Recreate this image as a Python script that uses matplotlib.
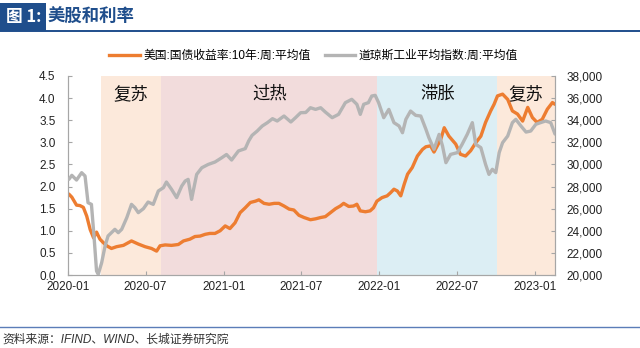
import matplotlib
matplotlib.use("Agg")
import matplotlib.pyplot as plt
import matplotlib.dates as mdates
from matplotlib.lines import Line2D
from matplotlib.patches import Rectangle
from matplotlib.ticker import FuncFormatter, MultipleLocator
import pandas as pd

plt.rcParams['font.family'] = ['Liberation Sans', 'Noto Sans CJK SC']
plt.rcParams['axes.unicode_minus'] = False

# 美国10年期国债收益率(周均值, %)
yield_dates = [
    "2020-01-03", "2020-01-10", "2020-01-21", "2020-01-29", "2020-02-06", "2020-02-14",
    "2020-02-22", "2020-03-01", "2020-03-08", "2020-03-16", "2020-03-24", "2020-04-01",
    "2020-04-12", "2020-04-24", "2020-05-10", "2020-05-29", "2020-06-14", "2020-06-30",
    "2020-07-15", "2020-07-27", "2020-08-04", "2020-08-16", "2020-08-31", "2020-09-16",
    "2020-09-28", "2020-10-13", "2020-10-25", "2020-11-06", "2020-11-18", "2020-11-29",
    "2020-12-11", "2020-12-23", "2021-01-04", "2021-01-15", "2021-01-27", "2021-02-08",
    "2021-02-20", "2021-03-04", "2021-03-16", "2021-03-24", "2021-04-05", "2021-04-17",
    "2021-04-29", "2021-05-10", "2021-05-22", "2021-06-03", "2021-06-14", "2021-06-26",
    "2021-07-08", "2021-07-23", "2021-08-04", "2021-08-16", "2021-08-27", "2021-09-08",
    "2021-09-20", "2021-10-01", "2021-10-09", "2021-10-21", "2021-11-01", "2021-11-09",
    "2021-11-17", "2021-11-29", "2021-12-10", "2021-12-18", "2021-12-26", "2022-01-07",
    "2022-01-19", "2022-01-27", "2022-02-04", "2022-02-12", "2022-02-20", "2022-02-28",
    "2022-03-08", "2022-03-19", "2022-03-31", "2022-04-12", "2022-04-20", "2022-05-01",
    "2022-05-09", "2022-05-25", "2022-06-02", "2022-06-13", "2022-06-29", "2022-07-10",
    "2022-07-22", "2022-08-03", "2022-08-15", "2022-08-27", "2022-09-07", "2022-09-19",
    "2022-09-27", "2022-10-05", "2022-10-17", "2022-10-29", "2022-11-09", "2022-11-21",
    "2022-12-03", "2022-12-15", "2022-12-26", "2023-01-06", "2023-01-18", "2023-01-30",
    "2023-02-11", "2023-02-17",
]
yield_values = [
    1.83, 1.76, 1.58, 1.57, 1.53, 1.33,
    1.03, 0.84, 0.97, 0.81, 0.73, 0.66,
    0.60, 0.64, 0.67, 0.77, 0.70, 0.64,
    0.60, 0.54, 0.66, 0.68, 0.67, 0.69,
    0.77, 0.81, 0.87, 0.88, 0.92, 0.94,
    0.94, 1.00, 1.11, 1.05, 1.18, 1.41,
    1.52, 1.64, 1.67, 1.70, 1.62, 1.60,
    1.62, 1.62, 1.56, 1.49, 1.47, 1.35,
    1.30, 1.25, 1.27, 1.30, 1.32, 1.41,
    1.50, 1.56, 1.62, 1.55, 1.56, 1.60,
    1.45, 1.43, 1.45, 1.52, 1.67, 1.75,
    1.79, 1.86, 1.94, 1.90, 1.79, 2.05,
    2.28, 2.43, 2.69, 2.84, 2.90, 2.92,
    2.78, 3.07, 3.33, 3.14, 2.96, 2.73,
    2.69, 2.81, 2.99, 3.14, 3.45, 3.71,
    3.86, 4.05, 4.09, 3.97, 3.71, 3.64,
    3.48, 3.79, 3.56, 3.45, 3.52, 3.75,
    3.90, 3.86,
]

# 道琼斯工业平均指数(周均值)
dow_dates = [
    "2020-01-03", "2020-01-10", "2020-01-21", "2020-02-02", "2020-02-10", "2020-02-17",
    "2020-02-25", "2020-03-02", "2020-03-08", "2020-03-12", "2020-03-20", "2020-03-28",
    "2020-04-04", "2020-04-12", "2020-04-20", "2020-04-28", "2020-05-06", "2020-05-18",
    "2020-05-29", "2020-06-06", "2020-06-14", "2020-06-26", "2020-07-07", "2020-07-19",
    "2020-07-31", "2020-08-12", "2020-08-19", "2020-08-31", "2020-09-12", "2020-09-24",
    "2020-10-02", "2020-10-09", "2020-10-17", "2020-10-21", "2020-10-29", "2020-11-10",
    "2020-11-25", "2020-12-11", "2020-12-27", "2021-01-07", "2021-01-19", "2021-02-04",
    "2021-02-20", "2021-02-28", "2021-03-08", "2021-03-20", "2021-04-01", "2021-04-13",
    "2021-04-25", "2021-05-06", "2021-05-22", "2021-06-07", "2021-06-18", "2021-06-30",
    "2021-07-12", "2021-07-23", "2021-08-04", "2021-08-16", "2021-08-27", "2021-09-12",
    "2021-09-27", "2021-10-13", "2021-10-28", "2021-11-09", "2021-11-17", "2021-11-25",
    "2021-12-06", "2021-12-14", "2021-12-22", "2021-12-30", "2022-01-11", "2022-01-23",
    "2022-02-04", "2022-02-16", "2022-02-24", "2022-03-04", "2022-03-15", "2022-03-27",
    "2022-04-08", "2022-04-20", "2022-04-27", "2022-05-09", "2022-05-21", "2022-05-29",
    "2022-06-06", "2022-06-17", "2022-07-03", "2022-07-14", "2022-07-26", "2022-08-07",
    "2022-08-15", "2022-08-27", "2022-09-07", "2022-09-15", "2022-09-23", "2022-10-01",
    "2022-10-09", "2022-10-17", "2022-10-29", "2022-11-09", "2022-11-17", "2022-11-29",
    "2022-12-11", "2022-12-22", "2023-01-03", "2023-01-14", "2023-01-26", "2023-02-07",
    "2023-02-17",
]
dow_values = [
    28650, 29015, 28590, 29255, 28955, 26540,
    26390, 23530, 20360, 20060, 21110, 22620,
    23530, 23830, 24130, 23830, 24130, 25190,
    26390, 26090, 25640, 26000, 26600, 26390,
    27600, 27900, 28410, 27750, 27000, 28050,
    28500, 28650, 26840, 27600, 29100, 29700,
    30000, 30220, 30610, 30900, 30400, 31220,
    31430, 32120, 32630, 33020, 33480, 33780,
    34140, 33930, 34380, 33840, 34230, 34680,
    34700, 35130, 34980, 35130, 34740, 34230,
    34530, 35590, 35890, 35440, 34530, 35440,
    35590, 36190, 36250, 35590, 34230, 34980,
    33780, 33480, 32870, 34080, 34830, 34440,
    34380, 33180, 32420, 31370, 32720, 31670,
    30160, 30910, 31070, 31820, 32720, 33780,
    31820, 31520, 30010, 29100, 29560, 29260,
    31070, 31970, 32570, 33780, 34080, 33480,
    32930, 33020, 33630, 33780, 33930, 33780,
    32750,
]

# 经济周期阶段
phase_names = ["复苏", "过热", "滞胀", "复苏"]
phase_starts = ["2020-03-18", "2020-08-07", "2021-12-27", "2022-10-05"]
phase_ends = ["2020-08-07", "2021-12-27", "2022-10-05", "2023-02-17"]
phase_colors = ["#FCE9DB", "#F2DCDC", "#DCEEF4", "#FCE9DB"]

yield_label = "美国:国债收益率:10年:周:平均值"
dow_label = "道琼斯工业平均指数:周:平均值"
x_ticks = ["2020-01", "2020-07", "2021-01", "2021-07", "2022-01", "2022-07", "2023-01"]

ORANGE = "#ED7D31"
GREY = "#B4B4B4"
NAVY = "#1F4E8C"
AXIS = "#A6A6A6"

fig = plt.figure(figsize=(6.4, 3.48), dpi=100)
ax = fig.add_axes([68 / 640, 1 - 275 / 348, 487 / 640, 199 / 348])
ax2 = ax.twinx()

yd = pd.to_datetime(yield_dates)
dd = pd.to_datetime(dow_dates)

for name, s, e, c in zip(phase_names, phase_starts, phase_ends, phase_colors):
    s, e = pd.Timestamp(s), pd.Timestamp(e)
    ax.axvspan(s, e, color=c, lw=0, zorder=0)
    ax.text(s + (e - s) / 2, 4.1, name, ha="center", va="center",
            fontsize=12.5, fontweight="medium", color="#111111",
            family=["Noto Sans CJK SC"], zorder=1)

ax.plot(yd, yield_values, color=ORANGE, lw=2.4, zorder=3, solid_capstyle="round")
ax2.plot(dd, dow_values, color=GREY, lw=2.4, zorder=3, solid_capstyle="round")

ax.set_xlim(pd.Timestamp("2020-01-01"), pd.Timestamp("2023-02-17"))
ax.set_ylim(0, 4.5)
ax2.set_ylim(20000, 38000)
ax.yaxis.set_major_locator(MultipleLocator(0.5))
ax.yaxis.set_major_formatter(FuncFormatter(lambda v, p: f"{v:.1f}"))
ax2.yaxis.set_major_locator(MultipleLocator(2000))
ax2.yaxis.set_major_formatter(FuncFormatter(lambda v, p: f"{int(v):,}"))

ax.set_xticks(pd.to_datetime(x_ticks))
ax.xaxis.set_major_formatter(mdates.DateFormatter("%Y-%m"))

for a in (ax, ax2):
    a.spines["top"].set_visible(False)
    for sp in ("left", "right", "bottom"):
        a.spines[sp].set_color(AXIS)
        a.spines[sp].set_linewidth(0.8)
    a.tick_params(direction="in", length=3, width=0.8, color=AXIS,
                  labelsize=8.5, labelcolor="#222222")
ax.tick_params(axis="y", pad=9)
ax2.tick_params(axis="y", pad=8)
ax.tick_params(axis="x", pad=4)

# 图例
handles = [Line2D([], [], color=ORANGE, lw=2.4), Line2D([], [], color=GREY, lw=2.4)]
fig.legend(handles, [yield_label, dow_label], ncol=2, frameon=False,
           loc="center", bbox_to_anchor=(0.49, 1 - 56 / 348), fontsize=8.5,
           handlelength=2.6, handletextpad=0.3, columnspacing=1.2)

# 标题栏
fig.patches.append(Rectangle((0, 1 - 31 / 348), 46 / 640, 28 / 348,
                             transform=fig.transFigure, color=NAVY, lw=0))
fig.text(6 / 640, 1 - 17 / 348, "图 1:", color="white", fontsize=12,
         fontweight="bold", va="center", family=["Noto Sans CJK SC"])
fig.text(48 / 640, 1 - 17 / 348, "美股和利率", color=NAVY, fontsize=12.5,
         fontweight="bold", va="center", family=["Noto Sans CJK SC"])
fig.add_artist(Line2D([0, 1], [1 - 31 / 348, 1 - 31 / 348], color=NAVY, lw=1.4,
                      transform=fig.transFigure))

# 资料来源
fig.add_artist(Line2D([0, 1], [1 - 327 / 348, 1 - 327 / 348], color="#5B7DB8",
                      lw=1.0, transform=fig.transFigure))
fig.text(2 / 640, 1 - 340 / 348, "资料来源：IFIND、WIND、长城证券研究院",
         fontsize=8.5, style="italic", color="#333333", va="center")

fig.savefig("out.png", dpi=100)
